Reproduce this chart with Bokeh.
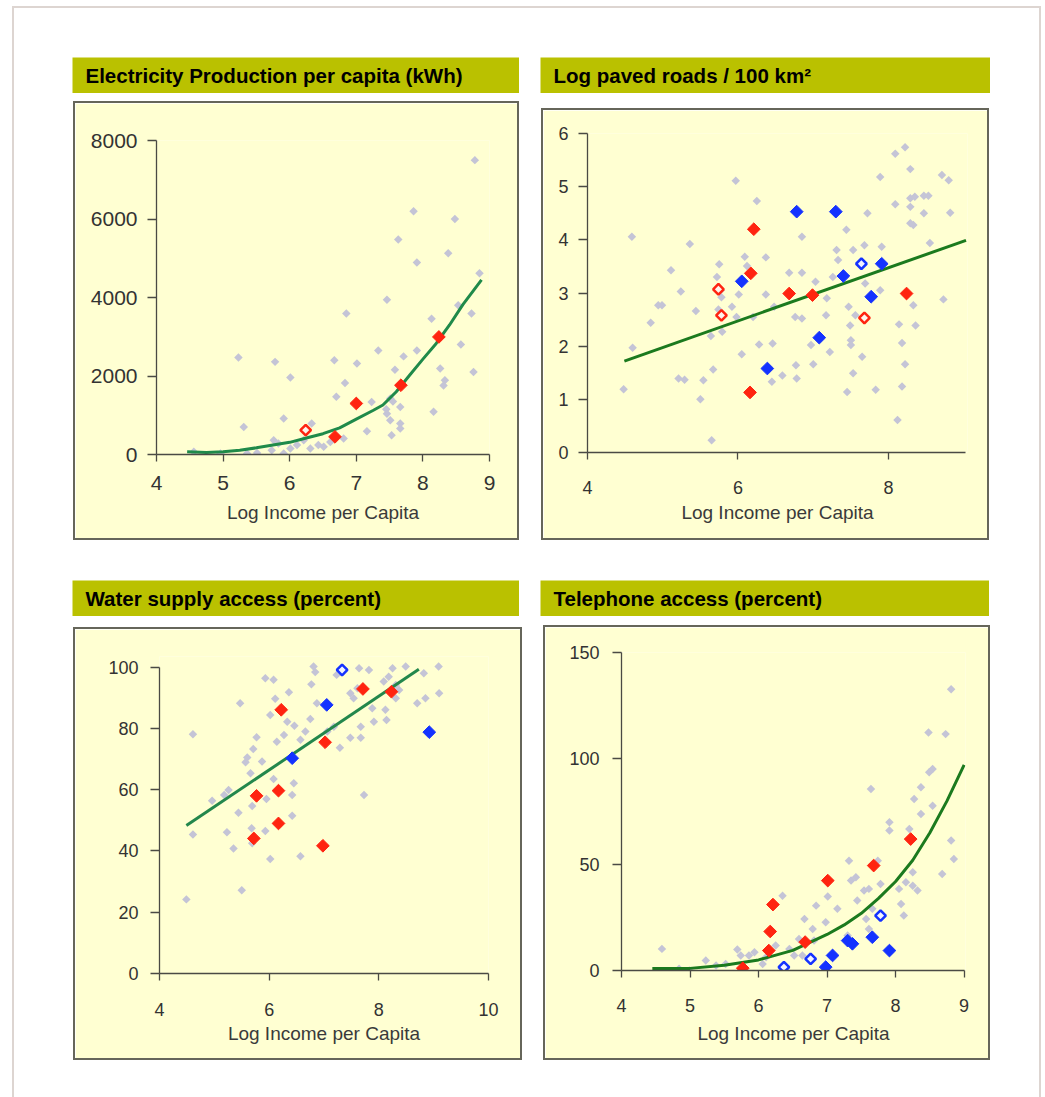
import math
from bokeh.plotting import figure
from bokeh.layouts import row, column
from bokeh.models import Spacer, Label, FixedTicker, Range1d
from bokeh.embed import file_html
from bokeh.resources import INLINE

# ---------------- data ----------------
titles = ["Electricity Production per capita (kWh)", "Log paved roads / 100 km\u00b2",
          "Water supply access (percent)", "Telephone access (percent)"]
x_label = "Log Income per Capita"

# Panel 1: electricity
elec_grey_x = [8.78, 7.86, 8.48, 7.63, 7.91, 8.38, 8.85, 7.46, 6.85, 8.53, 8.73, 8.13, 7.33, 7.91, 7.71,
               8.57, 5.23, 5.78, 6.67, 7.01, 6.01, 7.58, 8.26, 8.33, 8.31, 8.76, 6.83, 6.70, 7.23, 7.51,
               7.66, 8.16, 7.46, 7.51, 7.66, 7.66, 7.53, 5.91, 5.31, 6.33, 7.16, 6.81, 6.51, 6.43, 6.21,
               5.76, 5.73, 6.01, 6.11, 4.56, 5.36, 5.51, 4.96, 5.83, 6.61, 5.91, 6.31, 7.45, 7.55]
elec_grey_y = [7500, 6200, 6000, 5480, 4890, 5130, 4620, 3940, 3590, 3800, 3590, 3460, 2650, 2650, 2500,
               2800, 2470, 2360, 2400, 2320, 1960, 2160, 2190, 1890, 1760, 2100, 1820, 1470, 1340, 1425,
               1210, 1090, 1040, 870, 790, 660, 490, 920, 700, 790, 590, 410, 195, 240, 365,
               365, 110, 150, 240, 70, 25, 40, 25, 280, 320, 25, 150, 1150, 1350]
elec_red_x = [6.68, 7.00, 7.67, 8.24]
elec_red_y = [450, 1300, 1765, 2995]
elec_red_open_x = [6.24]
elec_red_open_y = [620]
elec_fit_x = [4.46, 4.75, 5.0, 5.25, 5.5, 5.75, 6.0, 6.25, 6.5, 6.75, 7.0, 7.25, 7.4, 7.6, 7.8, 8.0,
              8.2, 8.4, 8.6, 8.88]
elec_fit_y = [70, 50, 70, 110, 170, 240, 310, 420, 530, 680, 900, 1120, 1260, 1600, 2020, 2430,
              2830, 3300, 3820, 4450]

# Panel 2: roads
road_grey_x = [4.59, 4.48, 4.60, 4.84, 4.94, 4.99, 5.11, 5.24, 5.36, 5.21, 5.29, 5.50, 5.54, 5.44, 5.65,
               5.67, 5.64, 5.75, 5.72, 5.78, 5.74, 5.92, 5.79, 5.97, 6.01, 6.05, 6.09, 6.12, 5.98, 6.20,
               6.25, 6.37, 6.37, 6.28, 6.46, 6.45, 6.59, 6.48, 6.68, 6.85, 6.85, 6.76, 6.85, 6.77, 6.78,
               7.00, 6.97, 7.03, 7.18, 7.17, 7.22, 7.31, 7.33, 7.44, 7.26, 7.45, 7.53, 7.53, 7.47, 7.49,
               7.50, 7.50, 7.56, 7.65, 7.68, 7.72, 7.69, 7.89, 7.91, 7.89, 7.83, 8.09, 8.22, 8.29, 8.09,
               8.29, 8.35, 8.47, 8.53, 8.29, 8.29, 8.33, 8.47, 8.71, 8.80, 8.82, 8.55, 8.33, 8.36, 8.14,
               8.18, 8.22, 8.18, 8.12, 8.73, 5.77]
road_grey_y = [4.06, 1.19, 1.97, 2.44, 2.77, 2.77, 3.43, 3.03, 3.92, 1.39, 1.37, 1.00, 1.36, 2.66, 0.23,
               1.56, 2.19, 3.54, 3.30, 2.92, 2.69, 2.74, 2.27, 5.11, 2.97, 1.85, 3.68, 3.51, 2.55, 2.55,
               4.73, 3.67, 2.97, 2.03, 2.05, 1.33, 1.45, 2.74, 3.38, 4.06, 3.38, 2.55, 2.52, 1.64, 1.39,
               1.66, 2.02, 3.21, 2.90, 2.58, 1.89, 3.81, 3.62, 4.19, 3.30, 1.14, 3.81, 1.49, 2.74, 2.39,
               2.11, 2.02, 2.58, 1.80, 3.90, 4.50, 3.18, 5.18, 3.87, 3.05, 1.18, 5.62, 5.74, 5.33, 4.67,
               4.78, 4.81, 4.83, 4.83, 4.62, 4.31, 4.28, 4.50, 5.22, 5.12, 4.51, 3.94, 2.77, 2.39, 2.41,
               2.06, 1.66, 1.24, 0.61, 2.88, 3.05]
road_red_x = [6.21, 6.17, 6.68, 6.99, 6.16, 8.24]
road_red_y = [4.20, 3.37, 2.99, 2.96, 1.13, 2.99]
road_red_open_x = [5.74, 5.78, 7.68]
road_red_open_y = [3.07, 2.58, 2.53]
road_blue_x = [6.78, 7.30, 6.05, 7.40, 7.91, 7.77, 7.08, 6.39]
road_blue_y = [4.53, 4.53, 3.22, 3.32, 3.55, 2.93, 2.16, 1.58]
road_blue_open_x = [7.64]
road_blue_open_y = [3.55]
road_fit_x = [4.49, 9.03]
road_fit_y = [1.72, 3.99]

# Panel 3: water
water_grey_x = [4.49, 4.61, 4.61, 5.47, 5.50, 5.23, 5.35, 5.44, 5.26, 5.18, 4.96, 5.57, 5.60, 5.71, 5.77,
                5.66, 5.69, 5.68, 5.69, 5.93, 6.08, 6.02, 6.11, 6.36, 5.87, 6.08, 6.14, 6.27, 5.95, 5.93,
                6.02, 6.33, 6.45, 6.42, 6.42, 6.57, 6.46, 6.57, 6.66, 6.75, 6.77, 6.81, 6.84, 6.87, 7.06,
                7.18, 7.29, 7.23, 7.48, 7.54, 7.61, 7.48, 7.67, 7.67, 7.64, 7.82, 7.73, 7.88, 7.91, 8.12,
                8.14, 8.09, 8.18, 8.25, 8.31, 8.37, 8.31, 8.49, 8.70, 8.85, 8.82, 9.09, 9.10]
water_grey_y = [24.2, 78.1, 45.4, 88.2, 27.2, 46.1, 40.8, 52.5, 59.9, 58.3, 56.4, 69.0, 70.5, 73.3, 77.1,
                65.4, 54.7, 47.4, 42.5, 96.4, 95.9, 84.4, 89.7, 91.8, 69.2, 63.5, 75.7, 77.9, 57.0, 46.5,
                37.4, 82.2, 62.1, 58.3, 51.5, 38.3, 80.9, 76.3, 79.0, 83.1, 94.4, 100.2, 98.4, 88.2, 79.0,
                80.6, 73.7, 97.5, 91.5, 89.9, 93.1, 77.0, 77.0, 80.6, 99.7, 99.1, 58.3, 86.6, 82.2, 86.1,
                82.8, 95.3, 96.9, 99.7, 94.2, 92.6, 89.9, 100.2, 88.2, 89.9, 98.0, 100.2, 91.5]
water_red_x = [6.22, 5.77, 6.17, 6.17, 5.72, 7.02, 6.98, 7.71, 8.23]
water_red_y = [86.1, 58.0, 59.7, 49.0, 44.1, 75.5, 41.7, 92.9, 92.0]
water_blue_x = [7.05, 6.42, 8.92]
water_blue_y = [87.7, 70.3, 78.8]
water_blue_open_x = [7.33]
water_blue_open_y = [99.1]
water_fit_x = [4.49, 8.73]
water_fit_y = [48.3, 99.3]

# Panel 4: telephone
tel_grey_x = [4.59, 4.84, 4.99, 5.23, 5.38, 5.52, 5.69, 5.74, 5.86, 5.94, 6.06, 6.11, 6.35, 6.25, 6.45,
              6.52, 6.59, 6.67, 6.79, 6.84, 7.01, 6.98, 6.81, 7.15, 7.32, 7.35, 7.42, 7.30, 7.44, 7.54,
              7.61, 7.64, 7.61, 7.57, 7.66, 7.74, 7.78, 7.91, 7.91, 8.05, 8.08, 8.12, 8.15, 8.25, 8.32,
              8.25, 8.20, 8.27, 8.37, 8.37, 8.48, 8.49, 8.54, 8.54, 8.68, 8.73, 8.81, 8.81, 8.85, 6.64]
tel_grey_y = [10.2, 0.8, 0.0, 4.7, 2.4, 3.1, 9.9, 7.1, 7.1, 8.6, 3.1, 6.3, 35.3, 11.8, 10.2,
              7.1, 14.9, 24.3, 19.6, 30.6, 34.9, 22.8, 14.1, 29.1, 51.8, 42.4, 44.0, 16.5, 33.0, 37.7,
              38.5, 85.6, 19.6, 24.3, 29.1, 51.8, 40.8, 69.9, 66.0, 38.5, 31.4, 25.9, 41.6, 40.0, 37.7,
              46.3, 66.8, 80.9, 73.8, 86.4, 112.3, 93.5, 95.0, 77.7, 45.5, 111.5, 132.7, 61.3, 52.6, 7.1]
tel_red_x = [6.21, 6.17, 6.15, 5.77, 6.68, 7.01, 7.68, 8.22]
tel_red_y = [31.1, 18.4, 9.4, 1.1, 13.4, 42.4, 49.5, 62.0]
tel_blue_x = [6.98, 7.08, 7.30, 7.37, 7.66, 7.91]
tel_blue_y = [1.6, 7.1, 14.1, 12.6, 15.7, 9.4]
tel_blue_open_x = [6.37, 6.76, 7.78]
tel_blue_open_y = [1.6, 5.5, 25.9]
tel_fit_x = [4.45, 5.0, 5.5, 6.0, 6.5, 7.0, 7.25, 7.5, 7.75, 8.0, 8.25, 8.5, 8.75, 9.0]
tel_fit_y = [1.0, 1.0, 2.5, 5.0, 9.5, 17.0, 21.5, 27.0, 34.0, 42.0, 52.0, 65.0, 80.0, 97.0]

# ---------------- style ----------------
FONT = "Liberation Sans"
BG = "#ffffd2"
OLIVE = "#bac100"
GREY = "#c4c4d6"
RED = "#ff2410"
BLUE = "#1432ff"
AX = "#4a4a44"
BOX_LINE = "2px solid #66665a"
PAGE_LINE = "2px solid #ddd5d1"
BW = 2


def title_bar(text, w):
    p = figure(width=w, height=36, x_range=Range1d(0, 1), y_range=Range1d(0, 1),
               output_backend="svg", toolbar_location=None, x_axis_location=None,
               y_axis_location=None, min_border=0, background_fill_color=OLIVE,
               border_fill_color=OLIVE, outline_line_color=None)
    p.grid.visible = False
    p.add_layout(Label(x=13, y=18, x_units="screen", y_units="screen", text=text,
                       text_font=FONT, text_font_size="20.5px", text_font_style="bold",
                       text_color="#000000", text_baseline="middle"))
    return p


def chart(w, h, borders, xr, yr, xb, yb, xt, yt, tick_fs, x_stand, y_stand, lab_stand):
    # w, h, borders describe the outer box; the figure sits inside a BW-px CSS border
    left, right, top, bottom = borders
    p = figure(width=w - 2 * BW, height=h - 2 * BW, x_range=Range1d(*xr), y_range=Range1d(*yr),
               output_backend="svg", toolbar_location=None,
               min_border_left=left - BW, min_border_right=right - BW, min_border_top=top - BW,
               min_border_bottom=bottom - BW, background_fill_color=BG, border_fill_color=BG,
               outline_line_color=None)
    p.grid.visible = False
    for ax, ticks, bnd in ((p.xaxis, xt, xb), (p.yaxis, yt, yb)):
        ax.ticker = FixedTicker(ticks=ticks)
        ax.bounds = bnd
        ax.minor_tick_line_color = None
        ax.major_tick_in = 0
        ax.axis_line_color = AX
        ax.axis_line_width = 1.3
        ax.major_tick_line_color = AX
        ax.major_tick_line_width = 1.3
        ax.major_label_text_font = FONT
        ax.major_label_text_font_size = tick_fs
        ax.major_label_text_color = "#333333"
    p.xaxis.major_tick_out = 7
    p.yaxis.major_tick_out = 9
    p.xaxis.major_label_standoff = x_stand
    p.yaxis.major_label_standoff = y_stand
    p.xaxis.axis_label = x_label
    p.xaxis.axis_label_text_font = FONT
    p.xaxis.axis_label_text_font_size = "19px"
    p.xaxis.axis_label_text_font_style = "normal"
    p.xaxis.axis_label_text_color = "#3a3a3a"
    p.xaxis.axis_label_standoff = lab_stand
    return p


def boxed(p):
    return column(p, styles={"border": BOX_LINE})


def add_marks(p, gx, gy, fit_x, fit_y, fit_color, red=None, red_open=None, blue=None, blue_open=None):
    rot = math.pi / 4
    p.scatter(gx, gy, marker="square", angle=rot, size=6, fill_color=GREY, line_color=None)
    p.line(fit_x, fit_y, line_color=fit_color, line_width=3)
    if red_open:
        p.scatter(red_open[0], red_open[1], marker="square", angle=rot, size=7.5,
                  fill_color="#fff4ec", line_color=RED, line_width=2.5)
    if blue_open:
        p.scatter(blue_open[0], blue_open[1], marker="square", angle=rot, size=7.5,
                  fill_color="#f2f2ff", line_color=BLUE, line_width=2.5)
    if red:
        p.scatter(red[0], red[1], marker="square", angle=rot, size=9, fill_color=RED, line_color=RED)
    if blue:
        p.scatter(blue[0], blue[1], marker="square", angle=rot, size=9, fill_color=BLUE, line_color=BLUE)


c1 = chart(446, 439, (83, 30, 39, 86), (4, 9), (0, 8000), (4, 9), (0, 8000),
           [4, 5, 6, 7, 8, 9], [0, 2000, 4000, 6000, 8000], "21px", 14, 10, 9)
add_marks(c1, elec_grey_x, elec_grey_y, elec_fit_x, elec_fit_y, "#1f8a4a",
          red=(elec_red_x, elec_red_y), red_open=(elec_red_open_x, elec_red_open_y))

c2 = chart(448, 432, (46, 22, 25, 88), (4, 9.05), (0, 6), (4, 9.02), (0, 6),
           [4, 6, 8], [0, 1, 2, 3, 4, 5, 6], "18px", 21, 10, 5)
add_marks(c2, road_grey_x, road_grey_y, road_fit_x, road_fit_y, "#1b7a1e",
          red=(road_red_x, road_red_y), red_open=(road_red_open_x, road_red_open_y),
          blue=(road_blue_x, road_blue_y), blue_open=(road_blue_open_x, road_blue_open_y))

c3 = chart(449, 433, (86, 34, 29, 87), (4, 10), (0, 103.5), (4, 10), (0, 100),
           [4, 6, 8, 10], [0, 20, 40, 60, 80, 100], "18px", 22, 12, 4)
add_marks(c3, water_grey_x, water_grey_y, water_fit_x, water_fit_y, "#23874c",
          red=(water_red_x, water_red_y),
          blue=(water_blue_x, water_blue_y), blue_open=(water_blue_open_x, water_blue_open_y))

c4 = chart(447, 435, (78, 25, 27, 90), (4, 9.02), (0, 150), (4, 9), (0, 150),
           [4, 5, 6, 7, 8, 9], [0, 50, 100, 150], "18px", 21, 13, 8)
add_marks(c4, tel_grey_x, tel_grey_y, tel_fit_x, tel_fit_y, "#1b7a1e",
          red=(tel_red_x, tel_red_y),
          blue=(tel_blue_x, tel_blue_y), blue_open=(tel_blue_open_x, tel_blue_open_y))

t1 = title_bar(titles[0], 447)
t2 = title_bar(titles[1], 450)
t3 = title_bar(titles[2], 447)
t4 = title_bar(titles[3], 449)

left_col = column(Spacer(height=49), t1, Spacer(height=8), row(Spacer(width=1), boxed(c1)),
                  Spacer(height=40), t3, Spacer(height=11), row(Spacer(width=1), boxed(c3)),
                  Spacer(height=37))
right_col = column(Spacer(height=49), t2, Spacer(height=15), row(Spacer(width=1), boxed(c2)),
                   Spacer(height=40), t4, Spacer(height=9), row(Spacer(width=3), boxed(c4)),
                   Spacer(height=37))
framed = row(Spacer(width=58), left_col, Spacer(width=18), right_col, Spacer(width=49),
             styles={"border-top": PAGE_LINE, "border-left": PAGE_LINE, "border-right": PAGE_LINE})
page = column(Spacer(height=6), row(Spacer(width=12), framed))

open("out.html", "w").write(file_html(page, INLINE))
